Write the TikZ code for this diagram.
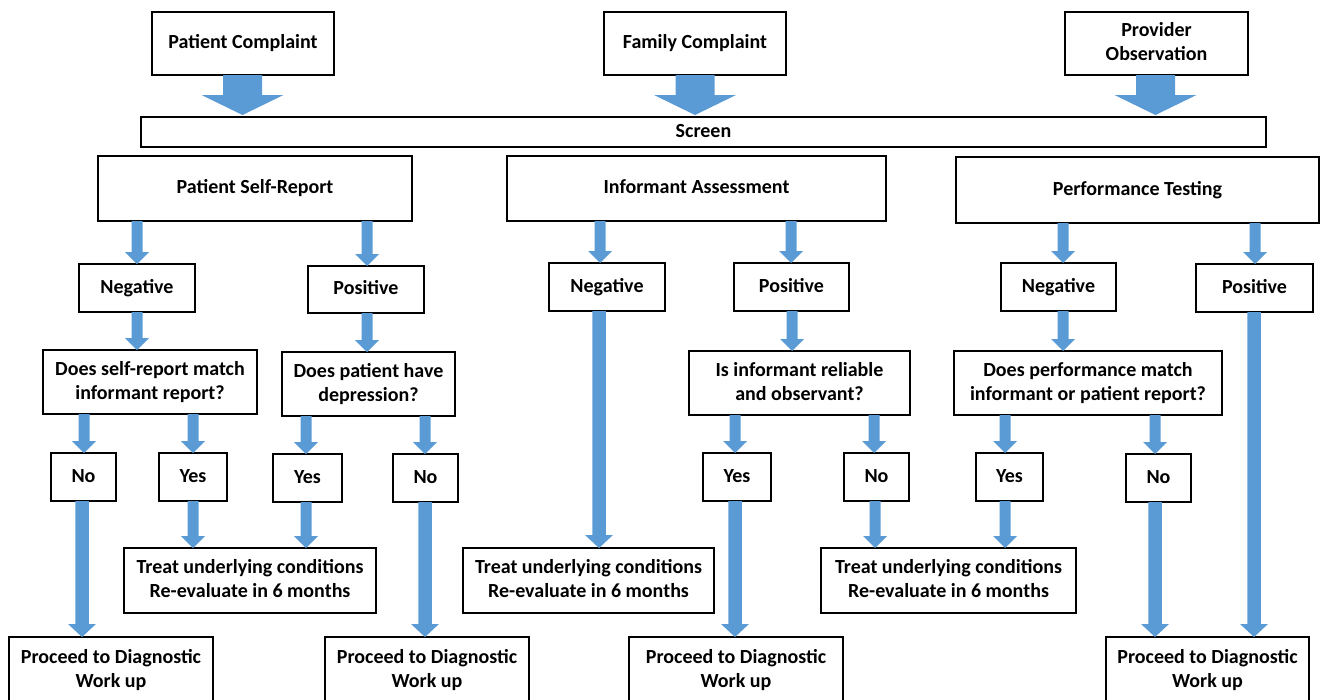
\documentclass[tikz,border=0pt]{standalone}
\usepackage{fontspec}
\setmainfont{Carlito}
\usetikzlibrary{calc}
\definecolor{arrowblue}{HTML}{5B9BD5}
\newcommand{\ls}{\rule[-4.5pt]{0pt}{19.5pt}}
\tikzset{
  box/.style={draw=black, line width=1.6pt, fill=white, inner sep=0pt, outer sep=0pt,
    align=center, font=\fontsize{20}{24}\selectfont\bfseries},
  blockarrow/.style={fill=arrowblue}
}
% from node, to node, x, shaft width, head width, head length, gap at tip
\newcommand{\barrowg}[7]{%
  \fill[blockarrow] let \p1=(#1.south), \p2=(#2.north) in
    (#3pt-#4pt/2,\y1) -- (#3pt+#4pt/2,\y1) -- (#3pt+#4pt/2,\y2+#7pt+#6pt)
    -- (#3pt+#5pt/2,\y2+#7pt+#6pt) -- (#3pt,\y2+#7pt) -- (#3pt-#5pt/2,\y2+#7pt+#6pt)
    -- (#3pt-#4pt/2,\y2+#7pt+#6pt) -- cycle;
}
\newcommand{\sarrow}[3]{\barrowg{#1}{#2}{#3}{11}{24}{12}{0}}
\newcommand{\larrow}[3]{\barrowg{#1}{#2}{#3}{13.5}{28}{13}{0}}
\newcommand{\tarrow}[3]{\barrowg{#1}{#2}{#3}{39}{82}{20}{2}}
\begin{document}
\begin{tikzpicture}[x=1pt,y=-1pt]
\useasboundingbox (0,0) rectangle (1320,699);
% top sources
\node[box, minimum width=182pt, minimum height=63pt] (pc) at (243,43.5) {\ls Patient Complaint\ls};
\node[box, minimum width=182pt, minimum height=63pt] (fc) at (695,43.5) {\ls Family Complaint\ls};
\node[box, minimum width=183pt, minimum height=63pt] (po) at (1156.5,43.5) {\ls Provider\\Observation\ls};
\node[box, minimum width=1125pt, minimum height=30pt] (screen) at (703.5,132) {\ls Screen\ls};
% second row
\node[box, minimum width=314pt, minimum height=65pt] (psr) at (255,188.5) {\ls Patient Self-Report\ls};
\node[box, minimum width=379pt, minimum height=65pt] (ia) at (696.5,188.5) {\ls Informant Assessment\ls};
\node[box, minimum width=363pt, minimum height=66pt] (pt) at (1137.5,190) {\ls Performance Testing\ls};
% negative / positive
\node[box, minimum width=116pt, minimum height=48pt] (n1) at (137,288) {\ls Negative\ls};
\node[box, minimum width=116pt, minimum height=47pt] (p1) at (366,289.5) {\ls Positive\ls};
\node[box, minimum width=116pt, minimum height=48pt] (n2) at (607,287) {\ls Negative\ls};
\node[box, minimum width=115pt, minimum height=48pt] (p2) at (791.5,287) {\ls Positive\ls};
\node[box, minimum width=115pt, minimum height=48pt] (n3) at (1058.5,287) {\ls Negative\ls};
\node[box, minimum width=117pt, minimum height=48pt] (p3) at (1254.5,288) {\ls Positive\ls};
% questions
\node[box, minimum width=214pt, minimum height=64pt] (q1) at (150,382) {\ls Does self-report match\\informant report?\ls};
\node[box, minimum width=173pt, minimum height=64pt] (q2) at (368.5,384) {\ls Does patient have\\depression?\ls};
\node[box, minimum width=221pt, minimum height=64pt] (q3) at (799.5,383) {\ls Is informant reliable\\and observant?\ls};
\node[box, minimum width=268pt, minimum height=64pt] (q4) at (1088,383) {\ls Does performance match\\informant or patient report?\ls};
% yes / no
\node[box, minimum width=65pt, minimum height=48pt] (no1) at (83.5,477) {\ls No\ls};
\node[box, minimum width=68pt, minimum height=48pt] (y1) at (193,477) {\ls Yes\ls};
\node[box, minimum width=69pt, minimum height=48pt] (y2) at (307.5,478) {\ls Yes\ls};
\node[box, minimum width=65pt, minimum height=48pt] (no2) at (425.5,478) {\ls No\ls};
\node[box, minimum width=68pt, minimum height=48pt] (y3) at (737,477) {\ls Yes\ls};
\node[box, minimum width=65pt, minimum height=48pt] (no3) at (876.5,477) {\ls No\ls};
\node[box, minimum width=67pt, minimum height=48pt] (y4) at (1009.5,477) {\ls Yes\ls};
\node[box, minimum width=65pt, minimum height=48pt] (no4) at (1158.5,478) {\ls No\ls};
% treat
\node[box, minimum width=252pt, minimum height=65pt] (t1) at (250,580.5) {\ls Treat underlying conditions\\Re-evaluate in 6 months\ls};
\node[box, minimum width=251pt, minimum height=65pt] (t2) at (588.5,580.5) {\ls Treat underlying conditions\\Re-evaluate in 6 months\ls};
\node[box, minimum width=255pt, minimum height=65pt] (t3) at (948.5,580.5) {\ls Treat underlying conditions\\Re-evaluate in 6 months\ls};
% proceed
\node[box, minimum width=204pt, minimum height=66pt] (pr1) at (111,670) {\ls Proceed to Diagnostic\\Work up\ls};
\node[box, minimum width=204pt, minimum height=66pt] (pr2) at (427,670) {\ls Proceed to Diagnostic\\Work up\ls};
\node[box, minimum width=214pt, minimum height=66pt] (pr3) at (736,670) {\ls Proceed to Diagnostic\\Work up\ls};
\node[box, minimum width=203pt, minimum height=66pt] (pr4) at (1207.5,670) {\ls Proceed to Diagnostic\\Work up\ls};
% arrows: top
\tarrow{pc}{screen}{242.5}
\tarrow{fc}{screen}{695}
\tarrow{po}{screen}{1155.5}
% row 2 -> row 3
\sarrow{psr}{n1}{137}
\sarrow{psr}{p1}{367}
\sarrow{ia}{n2}{600}
\sarrow{ia}{p2}{791}
\sarrow{pt}{n3}{1063}
\sarrow{pt}{p3}{1255}
% row 3 -> questions
\sarrow{n1}{q1}{137}
\sarrow{p1}{q2}{367}
\sarrow{p2}{q3}{792}
\sarrow{n3}{q4}{1063}
% questions -> yes/no
\sarrow{q1}{no1}{84}
\sarrow{q1}{y1}{193}
\sarrow{q2}{y2}{306}
\sarrow{q2}{no2}{425}
\sarrow{q3}{y3}{735}
\sarrow{q3}{no3}{874}
\sarrow{q4}{y4}{1005}
\sarrow{q4}{no4}{1155}
% to treat
\sarrow{y1}{t1}{193}
\sarrow{y2}{t1}{306}
\larrow{n2}{t2}{599}
\sarrow{no3}{t3}{875}
\sarrow{y4}{t3}{1005}
% to proceed
\larrow{no1}{pr1}{82}
\larrow{no2}{pr2}{425}
\larrow{y3}{pr3}{735}
\larrow{no4}{pr4}{1155}
\larrow{p3}{pr4}{1254}
\end{tikzpicture}
\end{document}
